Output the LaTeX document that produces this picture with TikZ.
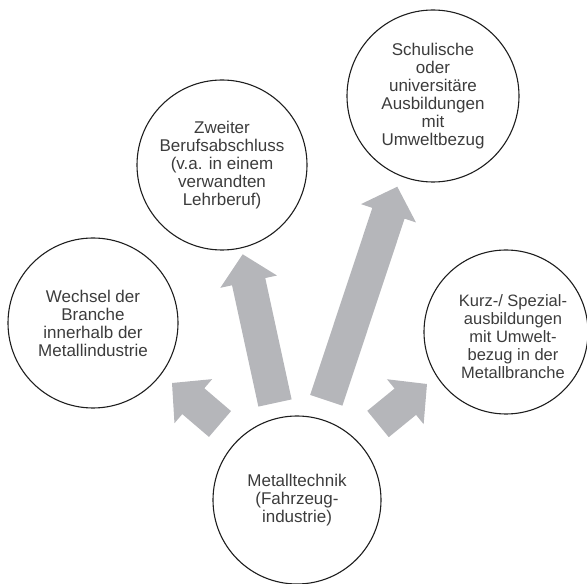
\documentclass[tikz,border=0pt]{standalone}
\usepackage{fontspec}
\setmainfont{Liberation Sans}
\usetikzlibrary{calc}
\definecolor{arrowgray}{RGB}{181,182,186}
\definecolor{txtgray}{RGB}{60,60,60}
\definecolor{ringcol}{RGB}{30,30,30}
\newcommand\blockarrow[2]{\fill[arrowgray] let \p1=(#1), \p2=(#2), \n1={atan2(\y2-\y1,\x2-\x1)}, \n2={veclen(\x2-\x1,\y2-\y1)} in [shift={(\p1)}, rotate=\n1] (0,-17) -- (\n2-28,-17) -- (\n2-28,-29) -- (\n2,0) -- (\n2-28,29) -- (\n2-28,17) -- (0,17) -- cycle;}
\tikzset{
  ring/.style={circle, draw=ringcol, line width=1.1pt, inner sep=0pt, align=center, text=txtgray, font=\fontsize{17}{18}\selectfont},
  lbl/.style={align=center, text=txtgray, font=\fontsize{16.5}{18}\selectfont, inner sep=0pt}
}
\begin{document}
\begin{tikzpicture}[x=1pt,y=1pt]
\useasboundingbox (0,0) rectangle (587,584);
\node[ring, minimum size=168pt] (src) at (297,84) {Metalltechnik\\(Fahrzeug-\\industrie)};
\node[ring, minimum size=170pt] (wech) at (93,261) {Wechsel der\\Branche\\innerhalb der\\Metallindustrie};
\node[ring, minimum size=170pt] (zweit) at (222,419) {Zweiter\\Berufsabschluss\\(v.a. in einem\\verwandten\\Lehrberuf)};
\node[ring, minimum size=172pt] (schul) at (433,488) {Schulische\\oder\\universitäre\\Ausbildungen\\mit\\Umweltbezug};
\node[ring, minimum size=164pt] (kurz) at (506,252) {};
\node[lbl] (kurztxt) at ($(kurz)+(7,-5)$) {Kurz-/ Spezial-\\ausbildungen\\mit Umwelt-\\bezug in der\\Metallbranche};
% arrow end points
\coordinate (a1t) at (220,160); \coordinate (a1h) at (172,201);
\coordinate (a2t) at (275,181); \coordinate (a2h) at (242.7,329.7);
\coordinate (a3t) at (326.3,183.7); \coordinate (a3h) at (397.3,397.3);
\coordinate (a4t) at (378,160); \coordinate (a4h) at (427,200);
\blockarrow{a1t}{a1h}
\blockarrow{a2t}{a2h}
\blockarrow{a3t}{a3h}
\blockarrow{a4t}{a4h}
\end{tikzpicture}
\end{document}
